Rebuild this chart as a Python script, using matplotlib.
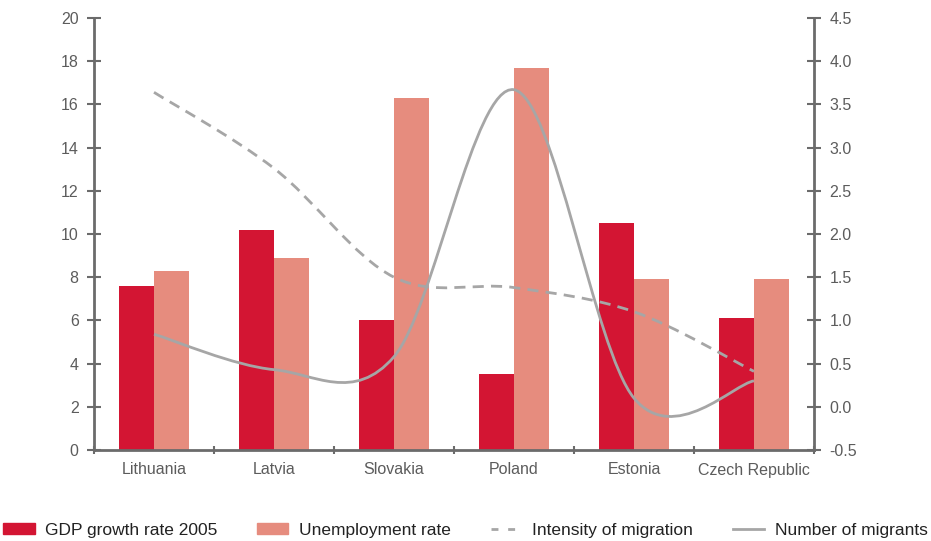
import numpy as np
import matplotlib.pyplot as plt
from matplotlib.path import Path
from matplotlib.patches import PathPatch, Patch
from matplotlib.lines import Line2D

plt.rcParams['font.family'] = ['Liberation Sans', 'DejaVu Sans']

countries = ['Lithuania', 'Latvia', 'Slovakia', 'Poland', 'Estonia', 'Czech Republic']
gdp_growth = [7.6, 10.2, 6.0, 3.5, 10.5, 6.1]
unemployment = [8.3, 8.9, 16.3, 17.7, 7.9, 7.9]
intensity = [3.64, 2.76, 1.5, 1.38, 1.1, 0.41]
migrants = [0.84, 0.43, 0.58, 3.67, 0.1, 0.30]

left_ticks = list(range(0, 21, 2))
right_ticks = [-0.5, 0.0, 0.5, 1.0, 1.5, 2.0, 2.5, 3.0, 3.5, 4.0, 4.5]

red = '#d31533'
salmon = '#e68c7e'
grey_line = '#a6a6a6'
axis_col = '#6b6b6b'
text_col = '#5c5c5c'


def smooth_path(xs, ys):
    # Catmull-Rom style bezier through the points (like a "smoothed line")
    pts = np.column_stack([xs, ys])
    verts = [pts[0]]
    codes = [Path.MOVETO]
    n = len(pts)
    for i in range(n - 1):
        p0 = pts[i - 1] if i > 0 else pts[i]
        p1 = pts[i]
        p2 = pts[i + 1]
        p3 = pts[i + 2] if i + 2 < n else pts[i + 1]
        c1 = p1 + (p2 - p0) / 6.0
        c2 = p2 - (p3 - p1) / 6.0
        verts += [c1, c2, p2]
        codes += [Path.CURVE4] * 3
    return Path(verts, codes)


fig = plt.figure(figsize=(9.31, 5.41), dpi=100)
ax = fig.add_axes([94 / 931, 1 - 450 / 541, 720 / 931, 432 / 541])
ax2 = ax.twinx()

x = np.arange(len(countries))
w = 35 / 120
ax.bar(x - w / 2, gdp_growth, w, color=red, zorder=2)
ax.bar(x + w / 2, unemployment, w, color=salmon, zorder=2)

ax.set_xlim(-0.5, len(countries) - 0.5)
ax.set_ylim(0, 20)
ax2.set_ylim(-0.5, 4.5)
ax.set_yticks(left_ticks)
ax2.set_yticks(right_ticks)
ax2.set_yticklabels(['%.1f' % v for v in right_ticks])

ax.set_xticks(x)
ax.set_xticklabels(countries)
ax.set_xticks(np.arange(-0.5, len(countries)), minor=True)
ax.tick_params(axis='x', which='major', length=0, pad=9, labelsize=11.5, colors=text_col)
ax.tick_params(axis='x', which='minor', length=6, width=1.5, direction='inout', color=axis_col)
ax.tick_params(axis='y', length=10, width=1.5, direction='inout', color=axis_col,
               labelsize=11.5, labelcolor=text_col, pad=6)
ax2.tick_params(axis='y', length=10, width=1.5, direction='inout', color=axis_col,
                labelsize=11.5, labelcolor=text_col, pad=6)
for t in ax.get_xticklabels():
    t.set_color(text_col)

for a in (ax, ax2):
    for s in a.spines.values():
        s.set_visible(False)
    a.spines['left'].set_visible(a is ax)
    a.spines['right'].set_visible(a is ax2)
    a.spines['bottom'].set_visible(a is ax)
    for s in a.spines.values():
        s.set_color(axis_col)
        s.set_linewidth(2)

ax2.add_patch(PathPatch(smooth_path(x, intensity), fill=False, edgecolor=grey_line,
                        lw=2, linestyle=(0, (4, 2.6)), zorder=3))
ax2.add_patch(PathPatch(smooth_path(x, migrants), fill=False, edgecolor=grey_line,
                        lw=2, zorder=3))

handles = [Patch(color=red), Patch(color=salmon),
           Line2D([0], [0], color=grey_line, lw=2, linestyle=(0, (2.5, 3.5))),
           Line2D([0], [0], color=grey_line, lw=2)]
labels = ['GDP growth rate 2005', 'Unemployment rate', 'Intensity of migration', 'Number of migrants']
leg = fig.legend(handles, labels, loc='center', bbox_to_anchor=(0.5, 1 - 530 / 541), ncol=4,
                 frameon=False, fontsize=12.5, handlelength=1.8, handleheight=0.55,
                 columnspacing=2.3, handletextpad=0.6)
for t in leg.get_texts():
    t.set_color('#222222')

fig.savefig('out.png', dpi=100)
